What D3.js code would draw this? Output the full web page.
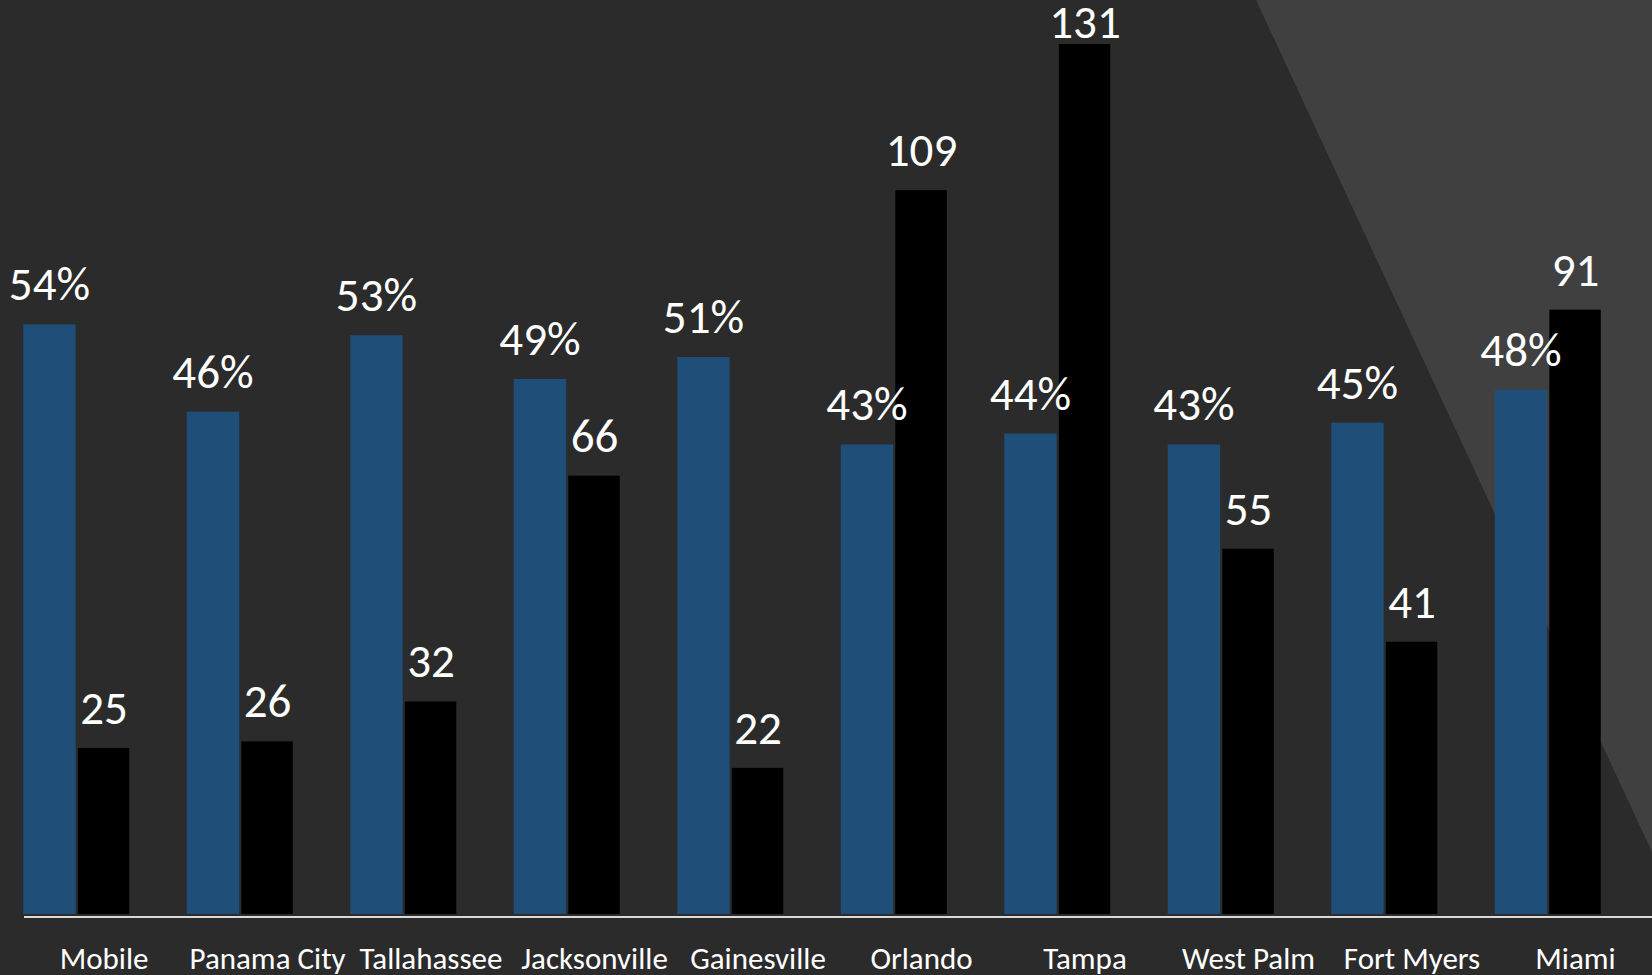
<!DOCTYPE html>
<html>
<head>
<meta charset="utf-8">
<script src="https://cdn.jsdelivr.net/npm/d3@7"></script>
<style>
  html, body { margin: 0; padding: 0; background: #2b2b2b; overflow: hidden; }
  text { font-family: Calibri, Carlito, Lato, sans-serif; fill: #ffffff; }
</style>
</head>
<body>
<div id="chart"></div>
<script>
// city names along the axis
const cities = ['Mobile', 'Panama City', 'Tallahassee', 'Jacksonville', 'Gainesville',
    'Orlando', 'Tampa', 'West Palm', 'Fort Myers', 'Miami'];
// blue bars, percent
const shares = [54, 46, 53, 49, 51, 43, 44, 43, 45, 48];
// black bars, counts
const counts = [25, 26, 32, 66, 22, 109, 131, 55, 41, 91];

const width = 1652;
const height = 975;
const baseY = 914;

const svg = d3.select('#chart')
    .append('svg')
    .attr('width', width)
    .attr('height', height);

// background with the lighter wedge in the top right
svg.append('rect')
    .attr('width', width)
    .attr('height', height)
    .attr('fill', '#2b2b2b');

svg.append('path')
    .attr('d', d3.line()([[1256, 0], [width, 0], [width, 852]]) + 'Z')
    .attr('fill', '#404040');

const x0 = d3.scaleBand()
    .domain(cities)
    .range([-5, 1630])
    .paddingInner(0.3456)
    .paddingOuter(0.1728);

const x1 = d3.scaleBand()
    .domain(['share', 'count'])
    .range([0, x0.bandwidth()])
    .paddingInner(0.04);

// two separate value scales, no visible y axes
const yShare = d3.scaleLinear().domain([0, 100]).range([baseY, baseY - 1092]);
const yCount = d3.scaleLinear().domain([0, 131]).range([baseY, baseY - 870]);

const rows = cities.map((c, i) => ({ city: c, share: shares[i], count: counts[i] }));

const groups = svg.selectAll('g.city')
    .data(rows)
    .enter()
    .append('g')
    .attr('class', 'city')
    .attr('transform', d => `translate(${x0(d.city)},0)`);

groups.append('rect')
    .attr('x', x1('share'))
    .attr('y', d => yShare(d.share))
    .attr('width', x1.bandwidth())
    .attr('height', d => baseY - yShare(d.share))
    .attr('fill', '#1f4e79');

groups.append('rect')
    .attr('x', x1('count'))
    .attr('y', d => yCount(d.count))
    .attr('width', x1.bandwidth() - 1)
    .attr('height', d => baseY - yCount(d.count))
    .attr('fill', '#000000');

groups.append('text')
    .attr('x', x1('share') + x1.bandwidth() / 2)
    .attr('y', d => yShare(d.share) - 24)
    .attr('text-anchor', 'middle')
    .style('font-size', '47px')
    .text(d => d.share + '%');

groups.append('text')
    .attr('x', x1('count') + x1.bandwidth() / 2)
    .attr('y', d => Math.max(yCount(d.count) - 24, 38))
    .attr('text-anchor', 'middle')
    .style('font-size', '47px')
    .text(d => d.count);

// baseline
svg.append('line')
    .attr('x1', 24)
    .attr('x2', width)
    .attr('y1', 917)
    .attr('y2', 917)
    .attr('stroke', '#d9d9d9')
    .attr('stroke-width', 2);

// category labels sit under the black bars
groups.append('text')
    .attr('x', x1('count') + x1.bandwidth() / 2)
    .attr('y', 969)
    .attr('text-anchor', 'middle')
    .style('font-size', '31px')
    .text(d => d.city);
</script>
</body>
</html>
